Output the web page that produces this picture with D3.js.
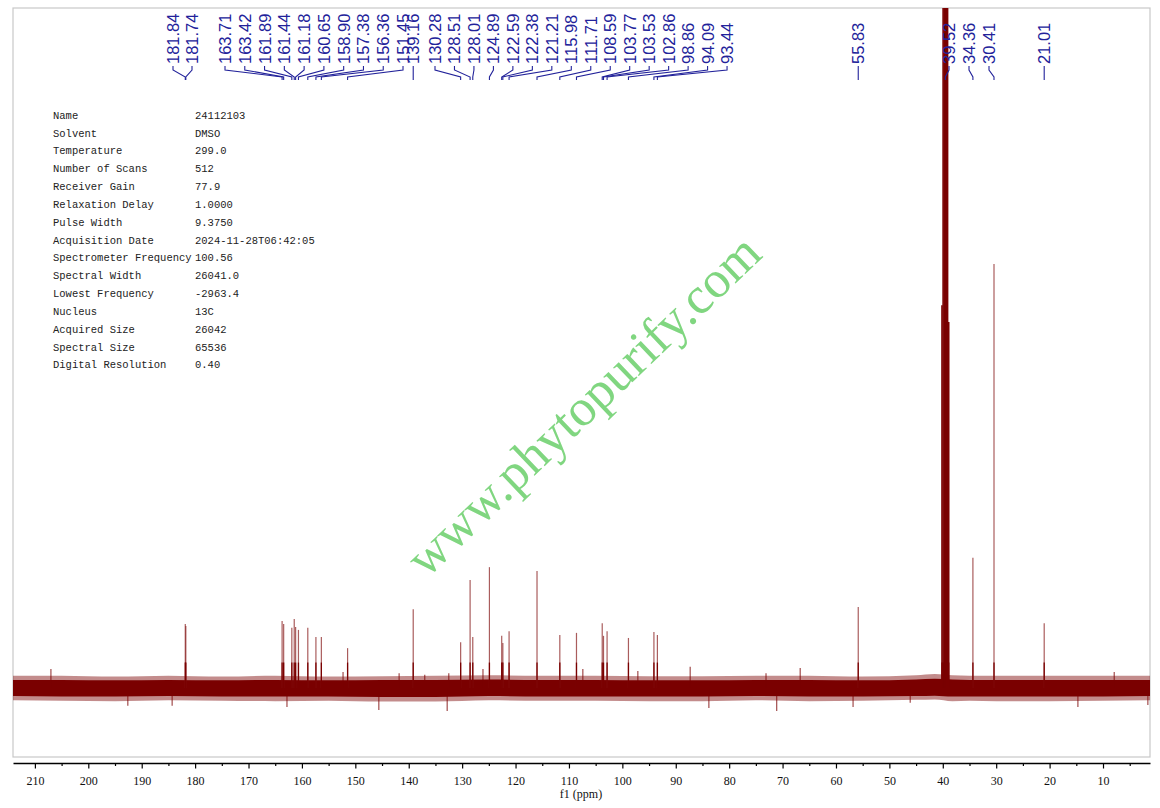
<!DOCTYPE html>
<html><head><meta charset="utf-8">
<script src="https://cdn.jsdelivr.net/npm/d3@7/dist/d3.min.js"></script>
<style>
html,body{margin:0;padding:0;background:#fff;}
svg{display:block;}
</style></head>
<body>
<svg id="chart" width="1160" height="808"></svg>
<script>
// ---------------- DATA ----------------
// Peak positions (ppm) and relative heights (30.41 ppm peak = 100)
const peakPpm = [181.84,181.74,163.71,163.42,161.89,161.44,161.18,160.65,158.90,157.38,156.36,151.45,139.16,
  130.28,128.51,128.01,124.89,122.59,122.38,121.21,115.98,111.71,108.59,103.77,103.53,102.86,98.86,94.09,93.44,
  55.83,40.15,39.94,39.73,39.52,39.31,39.10,38.89,34.36,30.41,21.01];
const peakHeight = [15.1,14.6,15.8,15.1,14.2,16.3,14.4,13.7,14.2,12.0,12.0,9.4,18.6,
  10.8,25.5,12.0,28.5,12.3,10.6,13.4,27.6,12.5,13.0,15.3,12.3,13.4,11.8,13.2,12.5,
  19.1,90.3,175,220,240,220,175,86.3,30.7,100,15.3];

// Peak labels (ppm)
const labelPpm = [181.84,181.74,163.71,163.42,161.89,161.44,161.18,160.65,158.90,157.38,156.36,151.45,139.16,
  130.28,128.51,128.01,124.89,122.59,122.38,121.21,115.98,111.71,108.59,103.77,103.53,102.86,98.86,94.09,93.44,
  55.83,39.52,34.36,30.41,21.01];

// Baseline noise envelope (intensity units)
const noisePpm   = [214.1,205,195,185,175,165,155,145,135,125,115,105,95,85,75,65,55,45,41.5,38.2,35,30,20,10,1.2];
const noiseOutHi = [2.9,2.9,2.7,2.9,2.7,2.9,2.7,2.8,2.9,3.0,2.9,2.9,2.8,2.8,2.9,2.9,2.7,3.0,3.3,3.0,2.9,2.9,2.9,2.9,2.9];
const noiseOutLo = [-2.9,-3.0,-3.1,-2.9,-3.0,-3.1,-3.0,-3.2,-3.2,-2.9,-3.0,-3.0,-3.1,-3.1,-2.9,-3.1,-3.0,-2.8,-2.7,-3.1,-3.0,-3.1,-3.1,-3.0,-2.9];
const noiseInHi  = [1.9,1.9,1.8,1.9,1.8,1.9,1.8,1.9,1.9,2.0,1.9,1.9,1.8,1.8,1.9,1.9,1.8,2.0,2.2,2.0,1.9,1.9,1.9,1.9,1.9];
const noiseInLo  = [-1.9,-2.0,-2.0,-1.9,-2.0,-2.0,-2.0,-2.1,-2.1,-1.9,-2.0,-2.0,-2.0,-2.0,-1.9,-2.0,-2.0,-1.9,-1.8,-2.0,-2.0,-2.0,-2.0,-2.0,-1.9];
// Visible noise spikes
const spikePpm = [207.0,192.6,184.3,162.8,152.3,145.6,141.8,137.0,132.8,132.5,126.1,107.4,97.1,87.3,83.8,73.1,71.1,66.7,56.8,46.1,14.7,7.9,1.6];
const spikeVal = [4.5,-4.2,-4.2,-4.5,3.8,-5.2,3.5,3.1,-5.4,3.5,4.5,4.5,4.0,5.0,-4.7,3.5,-5.4,4.7,-4.5,-3.5,-4.5,3.8,-4.0];

// Axis ticks
const majorTicks = [210,200,190,180,170,160,150,140,130,120,110,100,90,80,70,60,50,40,30,20,10];
const minorTicks = [205,195,185,175,165,155,145,135,125,115,105,95,85,75,65,55,45,35,25,15,5];

// Acquisition parameters
const paramNames = ["Name","Solvent","Temperature","Number of Scans","Receiver Gain","Relaxation Delay","Pulse Width",
  "Acquisition Date","Spectrometer Frequency","Spectral Width","Lowest Frequency","Nucleus","Acquired Size","Spectral Size","Digital Resolution"];
const paramValues = ["24112103","DMSO","299.0","512","77.9","1.0000","9.3750","2024-11-28T06:42:05","100.56",
  "26041.0","-2963.4","13C","26042","65536","0.40"];

const watermark = "www.phytopurify.com";
const xTitle = "f1 (ppm)";

// ---------------- LAYOUT ----------------
const svg = d3.select("#chart");
const L = 13, R = 1150, T = 8, B = 757;
const xs = d3.scaleLinear().domain([214.1, 1.2]).range([L, R]);
const ys = d3.scaleLinear().domain([0, 100]).range([688, 264]);
const red = "#7a0000";

svg.append("rect").attr("x", L).attr("y", T).attr("width", R - L).attr("height", B - T)
  .attr("fill", "none").attr("stroke", "#c8c8c8").attr("stroke-width", 1.2);

svg.append("clipPath").attr("id", "clip").append("rect")
  .attr("x", L).attr("y", T).attr("width", R - L).attr("height", B - T);

const plot = svg.append("g").attr("clip-path", "url(#clip)");

// watermark
svg.append("text").text(watermark)
  .attr("transform", "translate(587,409) rotate(-43.7)")
  .attr("text-anchor", "middle").attr("dominant-baseline", "middle")
  .attr("font-family", "'Liberation Serif', 'DejaVu Serif', serif")
  .attr("font-size", 52).attr("fill", "#80d680");

// noise band
const nIdx = d3.range(noisePpm.length);
const areaOut = d3.area().x(i => xs(noisePpm[i])).y0(i => ys(noiseOutLo[i])).y1(i => ys(noiseOutHi[i])).curve(d3.curveMonotoneX);
const areaIn = d3.area().x(i => xs(noisePpm[i])).y0(i => ys(noiseInLo[i])).y1(i => ys(noiseInHi[i])).curve(d3.curveMonotoneX);
plot.append("path").attr("d", areaOut(nIdx)).attr("fill", red).attr("opacity", 0.45);
plot.append("path").attr("d", areaIn(nIdx)).attr("fill", red);

// noise spikes
plot.selectAll("line.spike").data(d3.range(spikePpm.length)).join("line").attr("class", "spike")
  .attr("x1", i => xs(spikePpm[i])).attr("x2", i => xs(spikePpm[i]))
  .attr("y1", ys(0)).attr("y2", i => ys(spikeVal[i]))
  .attr("stroke", red).attr("stroke-width", 1.2).attr("opacity", 0.7);

// peaks
const isSolvent = i => Math.abs(peakPpm[i] - 39.5) < 1;
plot.selectAll("line.peak").data(d3.range(peakPpm.length)).join("line").attr("class", "peak")
  .attr("x1", i => xs(peakPpm[i])).attr("x2", i => xs(peakPpm[i]))
  .attr("y1", ys(0)).attr("y2", i => ys(peakHeight[i]))
  .attr("stroke", i => isSolvent(i) ? red : "#8a2020")
  .attr("stroke-width", i => isSolvent(i) ? 1.6 : 1.2)
  .attr("opacity", i => isSolvent(i) ? 1 : 0.72);
// darker lower part of peaks
plot.selectAll("line.peakb").data(d3.range(peakPpm.length)).join("line").attr("class", "peakb")
  .attr("x1", i => xs(peakPpm[i])).attr("x2", i => xs(peakPpm[i]))
  .attr("y1", ys(0)).attr("y2", i => ys(Math.min(peakHeight[i], 6)))
  .attr("stroke", red).attr("stroke-width", 1.3);

// axis
const axis = d3.axisBottom(xs).tickValues(majorTicks).tickSize(5.5).tickSizeOuter(0).tickFormat(d3.format("d"));
const ax = svg.append("g").attr("transform", "translate(0,763)").call(axis);
ax.select(".domain").attr("stroke", "#000").attr("stroke-width", 1.6);
ax.selectAll(".tick line").attr("stroke", "#000").attr("stroke-width", 1.2);
ax.selectAll(".tick text").attr("y", 13).attr("dy", "0.71em")
  .attr("font-family", "'Liberation Serif', 'DejaVu Serif', serif").attr("font-size", 12).attr("fill", "#111");
const minorAxis = d3.axisBottom(xs).tickValues(minorTicks).tickSize(3).tickSizeOuter(0).tickFormat("");
const mx = svg.append("g").attr("transform", "translate(0,763)").call(minorAxis);
mx.select(".domain").remove();
mx.selectAll(".tick line").attr("stroke", "#000").attr("stroke-width", 1.2);
svg.append("text").text(xTitle).attr("x", 581).attr("y", 798).attr("text-anchor", "middle")
  .attr("font-family", "'Liberation Serif', 'DejaVu Serif', serif").attr("font-size", 12).attr("fill", "#111");

// parameter table
const pt = svg.append("g").attr("font-family", "'Liberation Mono', 'DejaVu Sans Mono', monospace")
  .attr("font-size", 10.5).attr("fill", "#222");
paramNames.forEach((n, i) => {
  const y = 116 + i * 17.83;
  pt.append("text").text(n).attr("x", 53).attr("y", y).attr("dominant-baseline", "middle");
  pt.append("text").text(paramValues[i]).attr("x", 195).attr("y", y).attr("dominant-baseline", "middle");
});

// peak labels layout: groups [from, to, startX, step]; null start = directly above peak
const groups = [[0,1,173,19],[2,11,225,19.78],[12,12,null,0],[13,28,435,19.47],[29,29,null,0],[30,32,949,20],[33,33,null,0]];
const labelX = new Array(labelPpm.length);
groups.forEach(([a, b, x0, dx]) => {
  for (let i = a; i <= b; i++) labelX[i] = x0 === null ? xs(labelPpm[i]) : x0 + (i - a) * dx;
});
const blue = "#22229a";
const lg = svg.append("g");
labelPpm.forEach((p, i) => {
  const lx = labelX[i], px = xs(p);
  lg.append("path").attr("d", `M${lx},66 L${lx},70 L${px},77 L${px},80`)
    .attr("fill", "none").attr("stroke", blue).attr("stroke-width", 1.1);
  lg.append("text").text(p.toFixed(2))
    .attr("transform", `translate(${lx},64) rotate(-90)`)
    .attr("text-anchor", "start").attr("dy", "0.36em")
    .attr("font-family", "'Liberation Sans', Arial, sans-serif").attr("font-size", 16.5).attr("fill", blue);
});
</script>
</body></html>
